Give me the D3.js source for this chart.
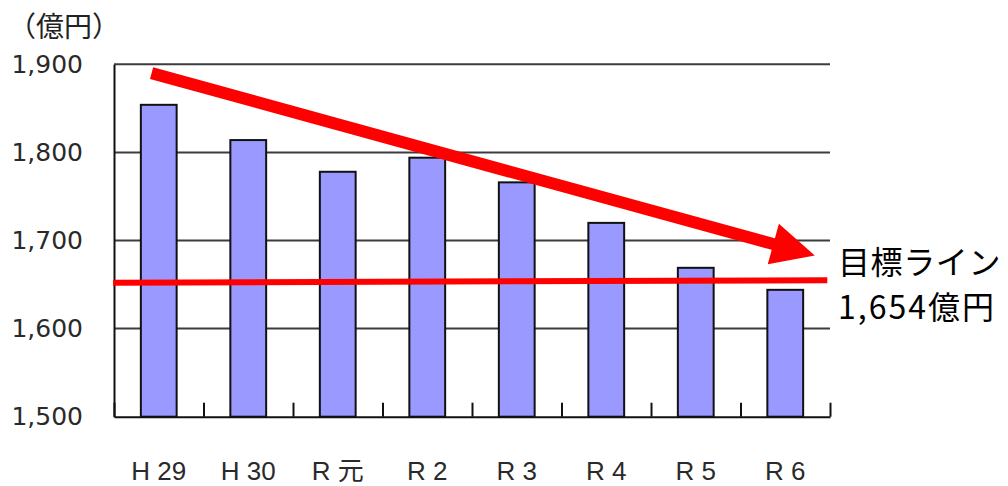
<!DOCTYPE html>
<html>
<head>
<meta charset="utf-8">
<script src="https://cdn.jsdelivr.net/npm/d3@7"></script>
<style>
  body { margin: 0; background: #fff; }
  svg { display: block; }
</style>
</head>
<body>
<svg></svg>
<script>
var width = 1008;
var height = 486;

// data
var years = ["H 29", "H 30", "R 元", "R 2", "R 3", "R 4", "R 5", "R 6"];
var amounts = [1854, 1814, 1778, 1794, 1766, 1720, 1669, 1644];
var yTicks = [1500, 1600, 1700, 1800, 1900];
var target = 1654;
var targetEnds = [1652, 1655];          // line drawn slightly tilted in the original
var trendFrom = [-0.08, 1890];           // [category index, value]
var trendTo = [7.33, 1683];
var unitLabel = "（億円）";
var targetLabel = ["目標ライン", "1,654億円"];

var margin = { left: 114, right: 178, top: 64.3, bottom: 69.3 };

var svg = d3.select("svg")
            .attr("width", width)
            .attr("height", height);

var x = d3.scaleBand()
          .domain(years)
          .range([margin.left, width - margin.right])
          .paddingInner(0.6)
          .paddingOuter(0.3);

// continuous version of the category axis (index -0.5 .. 7.5)
var xi = d3.scaleLinear()
           .domain([-0.5, years.length - 0.5])
           .range([margin.left, width - margin.right]);

var y = d3.scaleLinear()
          .domain([1500, 1900])
          .range([height - margin.bottom, margin.top]);

var textFont = "'DejaVu Sans', sans-serif";

// grid lines
svg.append("g")
   .selectAll("line")
   .data(yTicks.slice(1))
   .enter()
   .append("line")
   .attr("x1", margin.left)
   .attr("x2", width - margin.right)
   .attr("y1", function(d) { return y(d); })
   .attr("y2", function(d) { return y(d); })
   .attr("stroke", "#3c3c3c")
   .attr("stroke-width", 2);

// bars
svg.append("g")
   .selectAll("rect")
   .data(amounts)
   .enter()
   .append("rect")
   .attr("x", function(d, i) { return x(years[i]); })
   .attr("y", function(d) { return y(d); })
   .attr("width", x.bandwidth())
   .attr("height", function(d) { return y(1500) - y(d); })
   .attr("fill", "#9999ff")
   .attr("stroke", "#111")
   .attr("stroke-width", 2);

// y axis
var yAxis = svg.append("g")
   .attr("transform", "translate(" + margin.left + ",0)")
   .call(d3.axisLeft(y)
           .tickValues(yTicks)
           .tickSize(0)
           .tickPadding(31)
           .tickFormat(d3.format(",")));
yAxis.select(".domain").attr("stroke", "#111").attr("stroke-width", 2);
yAxis.selectAll("text")
     .attr("font-family", textFont)
     .attr("font-size", 25)
     .attr("fill", "#2a2a2a");

// x axis: separator ticks between categories
var xTicks = svg.append("g")
   .attr("transform", "translate(0," + y(1500) + ")")
   .call(d3.axisBottom(xi)
           .tickValues(d3.range(years.length + 1).map(function(i) { return i - 0.5; }))
           .tickSize(-14)
           .tickSizeOuter(0)
           .tickFormat(""));
xTicks.select(".domain").attr("stroke", "#111").attr("stroke-width", 2);
xTicks.selectAll(".tick line").attr("stroke", "#111").attr("stroke-width", 2);

// x axis labels
var xLabels = svg.append("g")
   .attr("transform", "translate(0," + y(1500) + ")")
   .call(d3.axisBottom(x).tickSize(0).tickPadding(45));
xLabels.select(".domain").remove();
xLabels.selectAll("text")
       .attr("font-family", "'Liberation Sans', 'Noto Sans CJK JP', sans-serif")
       .attr("font-size", 26)
       .attr("fill", "#2a2a2a");

// unit label
svg.append("text")
   .attr("x", 8)
   .attr("y", 37)
   .attr("font-family", "'Noto Sans CJK JP', sans-serif")
   .attr("font-size", 28)
   .attr("fill", "#222")
   .text(unitLabel);

// target line
svg.append("line")
   .attr("x1", xi(-0.51))
   .attr("x2", xi(7.47))
   .attr("y1", y(targetEnds[0]))
   .attr("y2", y(targetEnds[1]))
   .attr("stroke", "#ff0000")
   .attr("stroke-width", 6);

// trend arrow
var p0 = [xi(trendFrom[0]), y(trendFrom[1])];
var p1 = [xi(trendTo[0]), y(trendTo[1])];
var dx = p1[0] - p0[0], dy = p1[1] - p0[1];
var len = Math.sqrt(dx * dx + dy * dy);
var ux = dx / len, uy = dy / len;
var nx = -uy, ny = ux;
var shaftW = 6, headW = 21, headL = 43;
function pt(along, across) {
  return [p0[0] + ux * along + nx * across, p0[1] + uy * along + ny * across];
}
var arrowPts = [
  pt(0, -shaftW), pt(len - headL, -shaftW), pt(len - headL, -headW),
  pt(len, 0),
  pt(len - headL, headW), pt(len - headL, shaftW), pt(0, shaftW)
];
svg.append("path")
   .attr("d", d3.line()(arrowPts) + "Z")
   .attr("fill", "#ff0000");

// target label
svg.append("g")
   .selectAll("text")
   .data(targetLabel)
   .enter()
   .append("text")
   .attr("x", 838)
   .attr("y", function(d, i) { return 274 + i * 45; })
   .attr("font-family", "'Noto Sans CJK JP', sans-serif")
   .attr("font-size", 32)
   .attr("letter-spacing", function(d, i) { return i === 1 ? 2 : 0.6; })
   .attr("fill", "#000")
   .text(function(d) { return d; });
</script>
</body>
</html>
